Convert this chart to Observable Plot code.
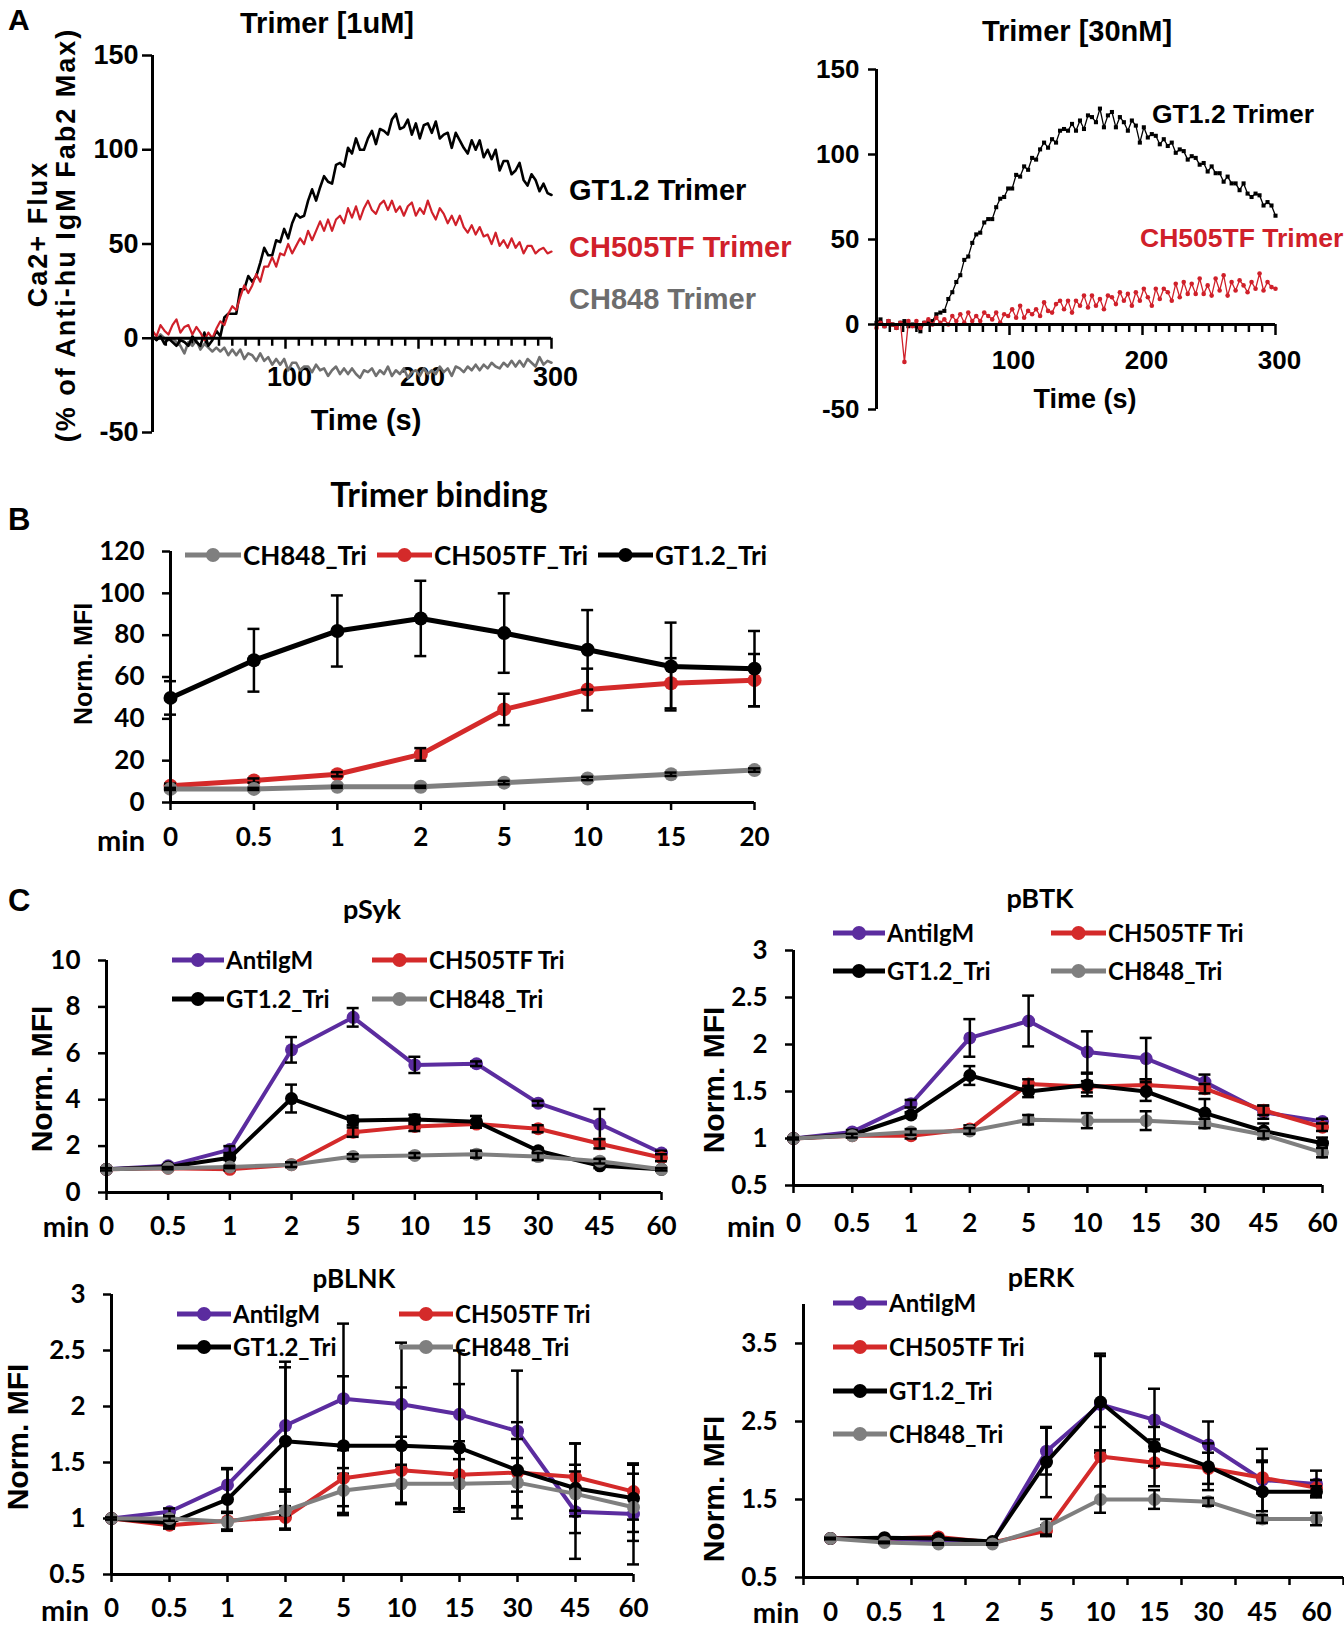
<!DOCTYPE html>
<html>
<head>
<meta charset="utf-8">
<script src="https://cdn.jsdelivr.net/npm/d3@7"></script>
<script src="https://cdn.jsdelivr.net/npm/@observablehq/plot@0.6"></script>
<style>
html,body{margin:0;padding:0;background:#fff;}
#page{position:relative;width:1344px;height:1632px;overflow:hidden;background:#fff;}
#page svg.chart{position:absolute;left:0;top:0;}
#page g[aria-label$="-axis tick"], #page g[aria-label$="-axis tick"] path{stroke-width:2.5px;}
.t{position:absolute;white-space:nowrap;line-height:1;}
</style>
</head>
<body>
<div id="page"></div>
<script>
// ---------------- DATA ----------------
// Panel A : Ca2+ flux traces (time in s)
const CA_T = [0,3,6,9,12,15,18,21,24,27,
  30,33,36,39,42,45,48,51,54,57,
  60,63,66,69,72,75,78,81,84,87,
  90,93,96,99,102,105,108,111,114,117,
  120,123,126,129,132,135,138,141,144,147,
  150,153,156,159,162,165,168,171,174,177,
  180,183,186,189,192,195,198,201,204,207,
  210,213,216,219,222,225,228,231,234,237,
  240,243,246,249,252,255,258,261,264,267,
  270,273,276,279,282,285,288,291,294,297,300];
const CA1_GT = [1,-1,1,-3,0,-2,-4,-1,-2,-4,
  1,-2,-4,3,-4,-1,4,1,11,13,
  13,13,26,26,33,30,33,40,48,44,
  44,52,51,58,53,61,66,64,65,73,
  79,73,80,86,83,82,92,93,91,101,
  98,106,100,100,106,110,103,111,110,108,
  116,119,111,112,116,108,114,106,113,114,
  109,115,106,108,109,101,109,105,101,98,
  105,100,105,96,100,95,100,89,94,94,
  87,89,93,84,81,87,84,78,82,77,76];
const CA1_CH505 = [4,1,7,4,2,7,10,3,6,7,
  2,6,3,-1,3,0,5,9,7,13,
  17,15,22,28,24,28,34,30,38,38,
  43,38,45,44,50,45,49,53,50,57,
  52,57,62,57,63,57,63,65,61,69,
  64,70,63,69,73,68,66,71,73,68,
  73,67,70,65,70,72,65,69,66,73,
  67,63,69,66,61,65,60,65,59,56,
  60,55,59,54,55,50,56,49,52,48,
  53,48,51,45,49,49,45,47,48,45,46];
const CA1_CH848 = [1,-1,2,0,-1,0,-2,-4,-8,-2,
  -4,-1,-6,-3,-5,-7,-5,-7,-5,-9,
  -6,-9,-6,-11,-8,-9,-12,-8,-12,-10,
  -14,-11,-14,-11,-17,-13,-13,-17,-15,-15,
  -18,-14,-17,-16,-20,-17,-15,-19,-16,-19,
  -16,-19,-21,-17,-18,-16,-20,-17,-19,-15,
  -20,-17,-19,-16,-21,-18,-17,-20,-16,-19,
  -17,-19,-15,-18,-16,-20,-15,-16,-18,-15,
  -17,-14,-17,-14,-16,-13,-15,-16,-13,-15,
  -12,-15,-12,-15,-11,-13,-15,-10,-14,-12,-13];
const CA2_GT = [1,3,-1,2,0,-2,1,2,-1,0,
  -1,-4,1,1,2,6,7,8,15,19,
  25,29,38,40,48,53,54,60,62,62,
  69,74,75,80,80,88,87,93,91,98,
  97,103,107,104,109,107,114,115,114,118,
  114,120,115,123,122,119,127,116,123,125,
  116,122,119,114,120,117,107,116,110,112,
  111,106,109,105,107,101,103,102,97,99,
  98,94,95,90,93,89,89,84,87,83,
  83,79,83,77,75,77,76,70,72,70,64];
const CA2_CH505 = [-2,1,-1,2,0,-2,1,-22,2,-1,
  2,-2,1,3,0,4,1,3,0,5,
  2,6,1,7,2,5,2,7,5,3,
  7,1,6,5,9,4,11,4,8,6,
  9,5,13,8,7,12,14,9,14,7,
  14,11,17,10,17,11,15,9,17,16,
  12,19,14,18,11,19,14,21,16,11,
  21,15,21,19,14,24,16,25,18,24,
  18,27,18,23,17,27,20,29,17,25,
  20,26,23,19,25,21,30,20,25,22,21];
const CA_Y_TICKS = [-50, 0, 50, 100, 150];
const CA_X_LABELS = [100, 200, 300];
const CA_X_MINOR = [10,20,30,40,50,60,70,80,90,110,120,130,140,150,160,170,180,190,210,220,230,240,250,260,270,280,290];

// Panel B : trimer binding
const B_CATS = ["0","0.5","1","2","5","10","15","20"];
const B_NAMES = ["CH848_Tri","CH505TF_Tri","GT1.2_Tri"];
const B_CH848 = [6.5,6.5,7.5,7.5,9.5,11.5,13.5,15.5];
const B_CH848_ERR = [0.5,0.5,0.5,0.5,0.8,0.8,0.8,0.8];
const B_CH505 = [8,10.5,13.5,23,44.5,54,57,58.5];
const B_CH505_ERR = [1,1,1,3,7.5,10,12,12.5];
const B_GT = [50,68,82,88,81,73,65,64];
const B_GT_ERR = [8,15,17,18,19,19,21,18];
const B_Y_TICKS = [0,20,40,60,80,100,120];

// Panel C : phospho-flow
const C_CATS = ["0","0.5","1","2","5","10","15","30","45","60"];
const C_NAMES = ["AntiIgM","CH505TF Tri","GT1.2_Tri","CH848_Tri"];
const SYK_ANTI = [1.0,1.15,1.85,6.15,7.55,5.5,5.55,3.85,2.95,1.7];
const SYK_ANTI_ERR = [0.05,0.05,0.15,0.55,0.4,0.35,0.1,0.1,0.65,0.1];
const SYK_CH505 = [1.0,1.05,1.0,1.2,2.6,2.85,2.95,2.75,2.1,1.5];
const SYK_CH505_ERR = [0.05,0.05,0.05,0.1,0.2,0.2,0.15,0.15,0.2,0.15];
const SYK_GT = [1.0,1.1,1.5,4.05,3.1,3.15,3.05,1.8,1.15,1.0];
const SYK_GT_ERR = [0.05,0.05,0.1,0.6,0.2,0.2,0.25,0.1,0.1,0.05];
const SYK_CH848 = [1.0,1.05,1.1,1.2,1.55,1.6,1.65,1.55,1.35,1.0];
const SYK_CH848_ERR = [0.05,0.05,0.05,0.1,0.1,0.1,0.15,0.15,0.1,0.05];
const SYK_Y_TICKS = [0,2,4,6,8,10];

const BTK_ANTI = [1.0,1.07,1.37,2.07,2.25,1.92,1.85,1.6,1.28,1.18];
const BTK_ANTI_ERR = [0.01,0.02,0.04,0.2,0.27,0.22,0.22,0.08,0.07,0.03];
const BTK_CH505 = [1.0,1.03,1.03,1.1,1.58,1.55,1.57,1.53,1.3,1.12];
const BTK_CH505_ERR = [0.01,0.02,0.03,0.04,0.05,0.06,0.06,0.05,0.05,0.04];
const BTK_GT = [1.0,1.04,1.25,1.67,1.5,1.57,1.5,1.27,1.08,0.95];
const BTK_GT_ERR = [0.01,0.02,0.03,0.1,0.06,0.12,0.1,0.15,0.08,0.06];
const BTK_CH848 = [1.0,1.03,1.07,1.08,1.2,1.19,1.19,1.16,1.04,0.85];
const BTK_CH848_ERR = [0.01,0.02,0.03,0.03,0.05,0.08,0.1,0.05,0.04,0.05];
const BTK_Y_TICKS = [0.5,1,1.5,2,2.5,3];

const BLNK_ANTI = [1.0,1.06,1.3,1.83,2.07,2.02,1.93,1.78,1.06,1.04];
const BLNK_ANTI_ERR = [0.01,0.03,0.15,0.57,0.67,0.55,0.57,0.54,0.42,0.45];
const BLNK_CH505 = [1.0,0.94,0.98,1.01,1.36,1.43,1.39,1.41,1.37,1.24];
const BLNK_CH505_ERR = [0.01,0.03,0.08,0.1,0.25,0.3,0.3,0.3,0.3,0.25];
const BLNK_GT = [1.0,0.96,1.17,1.69,1.65,1.65,1.63,1.43,1.27,1.18];
const BLNK_GT_ERR = [0.01,0.03,0.27,0.66,0.62,0.52,0.57,0.43,0.4,0.3];
const BLNK_CH848 = [1.0,1.0,0.97,1.07,1.25,1.31,1.31,1.32,1.22,1.1];
const BLNK_CH848_ERR = [0.01,0.02,0.08,0.17,0.2,0.17,0.22,0.22,0.2,0.3];
const BLNK_Y_TICKS = [0.5,1,1.5,2,2.5,3];

const ERK_ANTI = [1.0,1.0,0.97,0.95,2.12,2.72,2.52,2.2,1.75,1.7];
const ERK_ANTI_ERR = [0.01,0.01,0.01,0.01,0.3,0.62,0.4,0.3,0.4,0.17];
const ERK_CH505 = [1.0,1.0,1.02,0.95,1.1,2.05,1.97,1.9,1.78,1.65];
const ERK_CH505_ERR = [0.01,0.01,0.01,0.01,0.07,0.38,0.3,0.2,0.2,0.1];
const ERK_GT = [1.0,1.01,1.0,0.96,1.98,2.75,2.18,1.92,1.6,1.6];
const ERK_GT_ERR = [0.01,0.01,0.01,0.01,0.45,0.62,0.25,0.3,0.4,0.07];
const ERK_CH848 = [1.0,0.95,0.93,0.93,1.15,1.5,1.5,1.47,1.25,1.25];
const ERK_CH848_ERR = [0.01,0.01,0.01,0.01,0.1,0.17,0.12,0.05,0.05,0.08];
const ERK_Y_TICKS = [0.5,1.5,2.5,3.5];

// ---------------- STYLE ----------------
const W = 1344, H = 1632;
const PURPLE = "#5b2c9f", RED = "#d42a2a", GRAY = "#7f7f7f", BLACK = "#000000";
const ARIAL = "'Liberation Sans', Arial, sans-serif";
const LATO = "Lato, 'Open Sans', sans-serif";
const page = document.getElementById("page");

function add(svg) { svg.classList.add("chart"); page.appendChild(svg); }

function txt(str, x, y, o = {}) {
  const d = document.createElement("div");
  d.className = "t";
  d.textContent = str;
  d.style.left = x + "px";
  d.style.top = y + "px";
  d.style.fontFamily = o.font || ARIAL;
  d.style.fontSize = (o.size || 22) + "px";
  d.style.fontWeight = o.weight || "700";
  d.style.color = o.color || "#000";
  if (o.ls) d.style.letterSpacing = o.ls + "px";
  const tx = o.anchor === "start" ? "0" : "-50%";
  d.style.transform = `translate(${tx},-50%)` + (o.rotate ? ` rotate(${o.rotate}deg)` : "");
  page.appendChild(d);
}

function legendEntry(name, color, x, y, iconW, size) {
  const d = document.createElement("div");
  d.className = "t";
  d.style.left = x + "px";
  d.style.top = y + "px";
  d.style.transform = "translateY(-50%)";
  d.style.display = "flex";
  d.style.alignItems = "center";
  d.style.fontFamily = LATO;
  d.style.fontWeight = "700";
  d.style.fontSize = size + "px";
  d.innerHTML = `<svg width="${iconW}" height="16" style="display:block;margin-right:2px"><line x1="0" y1="8" x2="${iconW}" y2="8" stroke="${color}" stroke-width="5"/><circle cx="${iconW / 2}" cy="8" r="7" fill="${color}"/></svg>`;
  const s = document.createElement("span");
  s.textContent = name;
  d.appendChild(s);
  page.appendChild(d);
}

// ---------------- PANEL A charts ----------------
function caChart(o) {
  const f = o.f;
  const upp = 200 / (f.y1 - f.y0);
  const marks = [
    Plot.ruleX(CA_X_MINOR, {x: d => d, y1: 0, y2: -8 * upp, strokeWidth: 2.5}),
    Plot.ruleX(CA_X_LABELS, {x: d => d, y1: 0, y2: -11 * upp, strokeWidth: 2.5}),
    Plot.text(CA_X_LABELS, {x: d => d, y: 0, dy: o.labelDy, dx: 4, text: d => String(d)})
  ];
  for (const tr of o.traces) {
    const rows = CA_T.map((t, i) => ({t, v: tr.v[i]}));
    marks.push(Plot.line(rows, {x: "t", y: "v", stroke: tr.color, strokeWidth: tr.w}));
    if (tr.symbol) marks.push(Plot.dot(rows, {x: "t", y: "v", fill: tr.color, r: tr.r, symbol: tr.symbol}));
  }
  marks.push(Plot.ruleY([0], {strokeWidth: 3}));
  marks.push(Plot.ruleX([0], {strokeWidth: 3}));
  return Plot.plot({
    width: W, height: H,
    marginLeft: f.x0, marginRight: W - f.x1, marginTop: f.y0, marginBottom: H - f.y1,
    x: {domain: [0, 300], axis: null},
    y: {domain: [-50, 150], ticks: CA_Y_TICKS, tickSize: o.tickSize, tickPadding: o.tickPadding, tickFormat: d => String(d), label: null},
    style: `background:transparent;overflow:visible;font-family:${ARIAL};font-size:${o.font}px;font-weight:700;color:#000`,
    marks
  });
}

add(caChart({
  f: {x0: 152, x1: 551, y0: 55, y1: 432},
  labelDy: 39, tickSize: 10, tickPadding: 4, font: 27,
  traces: [
    {v: CA1_CH848, color: "#707070", w: 2.6},
    {v: CA1_GT, color: BLACK, w: 2.6},
    {v: CA1_CH505, color: "#d0202a", w: 2.2}
  ]
}));
add(caChart({
  f: {x0: 876, x1: 1275, y0: 69, y1: 409},
  labelDy: 36, tickSize: 8, tickPadding: 9, font: 26,
  traces: [
    {v: CA2_GT, color: BLACK, w: 1.3, symbol: "square", r: 2.3},
    {v: CA2_CH505, color: "#d0202a", w: 1.3, symbol: "circle", r: 2.3}
  ]
}));

// ---------------- category charts (B, C) ----------------
function catChart(o) {
  const {cats, series, yDomain, yTicks, f, band, labelDy, lw, r} = o;
  const n = cats.length;
  const idx = cats.map((c, i) => i);
  const xDomain = band ? [-0.5, n - 0.5] : [0, n - 1];
  const pxPerUnit = (f.x1 - f.x0) / (xDomain[1] - xDomain[0]);
  const capH = 6 / pxPerUnit;
  const marks = [];
  for (const s of series) {
    const rows = idx.map(i => ({i, v: s.v[i], lo: s.v[i] - s.e[i], hi: s.v[i] + s.e[i]}));
    marks.push(
      Plot.line(rows, {x: "i", y: "v", stroke: s.color, strokeWidth: lw}),
      Plot.dot(rows, {x: "i", y: "v", fill: s.color, r}),
      Plot.ruleX(rows, {x: "i", y1: "lo", y2: "hi", stroke: "#000", strokeWidth: 2.5}),
      Plot.ruleY(rows, {y: "hi", x1: d => d.i - capH, x2: d => d.i + capH, stroke: "#000", strokeWidth: 2.5}),
      Plot.ruleY(rows, {y: "lo", x1: d => d.i - capH, x2: d => d.i + capH, stroke: "#000", strokeWidth: 2.5})
    );
  }
  marks.push(Plot.ruleY([yDomain[0]], {strokeWidth: 3}));
  marks.push(Plot.ruleX([xDomain[0]], {strokeWidth: 3}));
  marks.push(Plot.text(idx, {x: d => d, text: d => cats[d], frameAnchor: "bottom", dy: labelDy}));
  const xt = band ? cats.concat([""]).map((c, i) => i - 0.5) : idx;
  return Plot.plot({
    width: W, height: H,
    marginLeft: f.x0, marginRight: W - f.x1, marginTop: f.y0, marginBottom: H - f.y1,
    x: {domain: xDomain, ticks: xt, tickSize: 8, tickFormat: () => "", label: null},
    y: {domain: yDomain, ticks: yTicks, tickSize: 8, tickPadding: 18, tickFormat: d => String(d), label: null},
    style: `background:transparent;overflow:visible;font-family:${LATO};font-size:${o.font || 26}px;font-weight:700;color:#000`,
    marks
  });
}

// Panel B
add(catChart({
  cats: B_CATS, f: {x0: 170, x1: 754, y0: 551, y1: 802}, yDomain: [0, 120], yTicks: B_Y_TICKS,
  labelDy: 43, lw: 5, r: 7, font: 26,
  series: [
    {v: B_CH505, e: B_CH505_ERR, color: RED},
    {v: B_GT, e: B_GT_ERR, color: BLACK},
    {v: B_CH848, e: B_CH848_ERR, color: GRAY}
  ]
}));

function cSeries(a, ae, r, re, g, ge, c, ce) {
  return [
    {v: a, e: ae, color: PURPLE},
    {v: r, e: re, color: RED},
    {v: g, e: ge, color: BLACK},
    {v: c, e: ce, color: GRAY}
  ];
}
add(catChart({
  cats: C_CATS, f: {x0: 106, x1: 661, y0: 960, y1: 1192}, yDomain: [0, 10], yTicks: SYK_Y_TICKS,
  labelDy: 42, lw: 4, r: 6.5,
  series: cSeries(SYK_ANTI, SYK_ANTI_ERR, SYK_CH505, SYK_CH505_ERR, SYK_GT, SYK_GT_ERR, SYK_CH848, SYK_CH848_ERR)
}));
add(catChart({
  cats: C_CATS, f: {x0: 793, x1: 1322, y0: 950, y1: 1185}, yDomain: [0.5, 3], yTicks: BTK_Y_TICKS,
  labelDy: 46, lw: 4, r: 6.5,
  series: cSeries(BTK_ANTI, BTK_ANTI_ERR, BTK_CH505, BTK_CH505_ERR, BTK_GT, BTK_GT_ERR, BTK_CH848, BTK_CH848_ERR)
}));
add(catChart({
  cats: C_CATS, f: {x0: 111, x1: 633, y0: 1294, y1: 1574}, yDomain: [0.5, 3], yTicks: BLNK_Y_TICKS,
  labelDy: 42, lw: 4, r: 6.5,
  series: cSeries(BLNK_ANTI, BLNK_ANTI_ERR, BLNK_CH505, BLNK_CH505_ERR, BLNK_GT, BLNK_GT_ERR, BLNK_CH848, BLNK_CH848_ERR)
}));
add(catChart({
  cats: C_CATS, f: {x0: 803, x1: 1343, y0: 1304, y1: 1577}, yDomain: [0.5, 4], yTicks: ERK_Y_TICKS,
  band: true, labelDy: 43, lw: 4, r: 6.5,
  series: cSeries(ERK_ANTI, ERK_ANTI_ERR, ERK_CH505, ERK_CH505_ERR, ERK_GT, ERK_GT_ERR, ERK_CH848, ERK_CH848_ERR)
}));

// ---------------- TEXT ----------------
// Panel A
txt("A", 8, 20, {size: 30, anchor: "start"});
txt("Trimer [1uM]", 327, 23, {size: 29});
txt("Trimer [30nM]", 1077, 31, {size: 29});
txt("Time (s)", 366, 420, {size: 29});
txt("Time (s)", 1085, 399, {size: 27});
txt("Ca2+ Flux", 38, 234, {size: 27, rotate: -90, ls: 2});
txt("(% of Anti-hu IgM Fab2 Max)", 66, 235, {size: 27, rotate: -90, ls: 2});
txt("GT1.2 Trimer", 569, 190, {size: 29, anchor: "start"});
txt("CH505TF Trimer", 569, 247, {size: 29, anchor: "start", color: "#d0202a"});
txt("CH848 Trimer", 569, 299, {size: 29, anchor: "start", color: "#6d6d6d"});
txt("GT1.2 Trimer", 1152, 114, {size: 26.5, anchor: "start"});
txt("CH505TF Trimer", 1140, 238, {size: 26.5, anchor: "start", color: "#d0202a"});

// Panel B
txt("B", 8, 519, {size: 31, anchor: "start"});
txt("Trimer binding", 439, 494, {size: 34, font: LATO});
txt("Norm. MFI", 83, 664, {size: 25, rotate: -90});
txt("min", 121, 839, {size: 29, font: LATO});
legendEntry(B_NAMES[0], GRAY, 185, 555, 56, 26);
legendEntry(B_NAMES[1], RED, 377, 555, 55, 26);
legendEntry(B_NAMES[2], BLACK, 598, 555, 55, 26);

// Panel C
txt("C", 8, 900, {size: 31, anchor: "start"});
txt("pSyk", 372, 908, {size: 27, font: LATO});
txt("pBTK", 1040, 897, {size: 27, font: LATO});
txt("pBLNK", 354, 1278, {size: 26, font: LATO});
txt("pERK", 1041, 1276, {size: 27, font: LATO});
txt("Norm. MFI", 42, 1079, {size: 30, rotate: -90});
txt("Norm. MFI", 714, 1080, {size: 30, rotate: -90});
txt("Norm. MFI", 18, 1437, {size: 30, rotate: -90});
txt("Norm. MFI", 714, 1489, {size: 30, rotate: -90});
txt("min", 66, 1226, {size: 28, font: LATO});
txt("min", 751, 1225, {size: 29, font: LATO});
txt("min", 65, 1609, {size: 29, font: LATO});
txt("min", 776, 1612, {size: 28, font: LATO});

const C_COLORS = [PURPLE, RED, BLACK, GRAY];
// pSyk legend (2x2)
legendEntry(C_NAMES[0], C_COLORS[0], 172, 960, 52, 24);
legendEntry(C_NAMES[1], C_COLORS[1], 372, 960, 55, 24);
legendEntry(C_NAMES[2], C_COLORS[2], 172, 999, 52, 24);
legendEntry(C_NAMES[3], C_COLORS[3], 372, 999, 55, 24);
// pBTK legend
legendEntry(C_NAMES[0], C_COLORS[0], 833, 933, 52, 24);
legendEntry(C_NAMES[1], C_COLORS[1], 1051, 933, 55, 24);
legendEntry(C_NAMES[2], C_COLORS[2], 833, 971, 52, 24);
legendEntry(C_NAMES[3], C_COLORS[3], 1051, 971, 55, 24);
// pBLNK legend
legendEntry(C_NAMES[0], C_COLORS[0], 177, 1314, 54, 24);
legendEntry(C_NAMES[1], C_COLORS[1], 399, 1314, 54, 24);
legendEntry(C_NAMES[2], C_COLORS[2], 177, 1347, 54, 24);
legendEntry(C_NAMES[3], C_COLORS[3], 399, 1347, 54, 24);
// pERK legend (vertical)
legendEntry(C_NAMES[0], C_COLORS[0], 833, 1303, 54, 24);
legendEntry(C_NAMES[1], C_COLORS[1], 833, 1347, 54, 24);
legendEntry(C_NAMES[2], C_COLORS[2], 833, 1391, 54, 24);
legendEntry(C_NAMES[3], C_COLORS[3], 833, 1434, 54, 24);
</script>
</body>
</html>
